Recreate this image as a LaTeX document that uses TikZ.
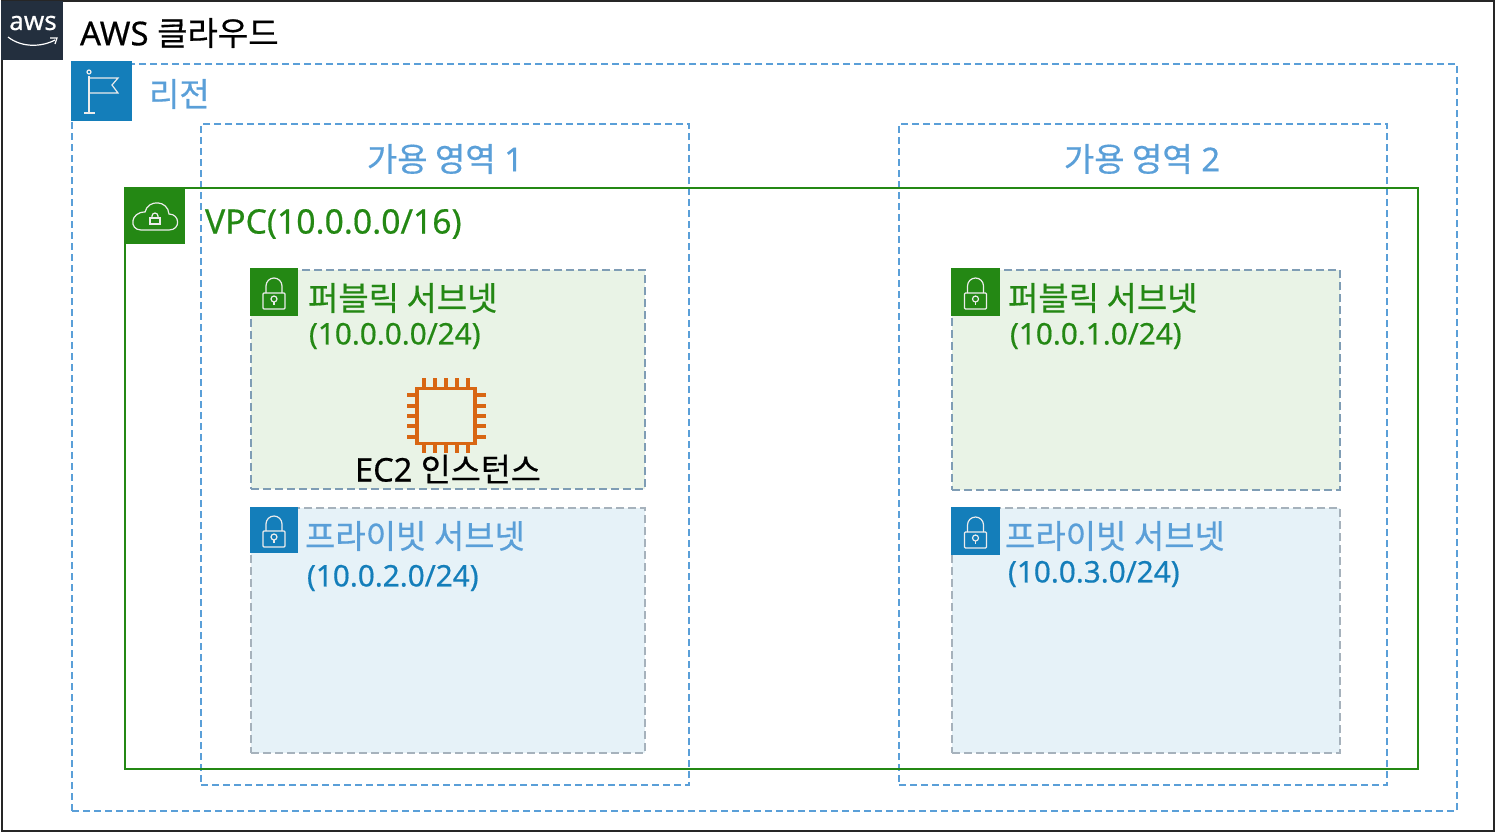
\documentclass[tikz,border=0pt]{standalone}
\usepackage{fontspec}
\setmainfont{Noto Sans}[FakeBold=0.5]
\newfontfamily\kr{Noto Sans CJK KR}[FakeBold=0.5]
\definecolor{awsdark}{HTML}{232F3E}
\definecolor{regionblue}{HTML}{147EBA}
\definecolor{dashblue}{HTML}{5A9FD8}
\definecolor{vpcgreen}{HTML}{248814}
\definecolor{pubfill}{HTML}{E9F3E6}
\definecolor{privfill}{HTML}{E6F2F8}
\definecolor{subnetdash}{HTML}{7F9DB5}
\definecolor{ec2orange}{HTML}{D86613}
\begin{document}
\begin{tikzpicture}[
    x=1pt, y=-1pt,
    zone/.style={draw, inner sep=0pt, outer sep=0pt},
    dashzone/.style={zone, draw=dashblue, line width=2pt, dash pattern=on 7pt off 4pt},
    vpczone/.style={zone, draw=vpcgreen, line width=2pt},
    pubzone/.style={zone, draw=subnetdash, fill=pubfill, line width=2pt, dash pattern=on 8pt off 4pt},
    privzone/.style={zone, draw=subnetdash!60!gray!70!white, fill=privfill, line width=2pt, dash pattern=on 8pt off 4pt},
    badge/.style={inner sep=0pt, outer sep=0pt},
    txt/.style={inner sep=0pt, outer sep=0pt, anchor=west},
    bigtxt/.style={txt, font=\fontsize{33}{36}\selectfont},
    midtxt/.style={txt, font=\fontsize{29.7}{34}\selectfont},
    iconline/.style={draw=white!85!gray, line width=1.2pt},
    lockicon/.pic={
        \draw[iconline, rounded corners=1pt] (-11,1) rectangle (11,17);
        \draw[iconline] (-8,1) -- (-8,-6) arc[start angle=180, end angle=360, radius=8] -- (8,1);
        \draw[iconline] (0,7) circle (3);
        \draw[iconline] (0,10) -- (0,13);
    }
]
\useasboundingbox (0,0) rectangle (1495,833);

% AWS cloud
\node[zone, line width=2pt, draw=black!85, minimum width=1492pt, minimum height=830pt] (cloud) at (747.5,416) {};
\node[badge, fill=awsdark, minimum width=62pt, minimum height=59pt] (awsbadge) at (32,30.5) {};
\node[inner sep=0pt, text=white, font=\fontsize{26}{26}\selectfont] (awslogo) at (33,23) {aws};
\draw[white, line width=1.2pt] (8,37) .. controls (22,48) and (42,47) .. (55,40);
\draw[white, line width=1.2pt] (50,38) -- (57,38) -- (55,44);
\node[bigtxt] (cloudtitle) at (80,33) {AWS {\kr 클라우드}};

% Region
\node[dashzone, minimum width=1385pt, minimum height=747pt] (region) at (764.5,437.5) {};
\node[badge, fill=regionblue, minimum width=61pt, minimum height=60pt] (regionbadge) at (101.5,91) {};
\draw[iconline] (89,76) -- (89,113);
\draw[iconline] (84,113) -- (95,113);
\draw[iconline] (89,72) circle (2);
\draw[iconline] (89,78) -- (118,78) -- (112,85) -- (118,93) -- (89,93);
\node[bigtxt, text=dashblue] (regiontitle) at (149,94) {\kr 리전};

% Availability zones
\node[dashzone, minimum width=488pt, minimum height=661pt] (az1) at (445,454.5) {};
\node[dashzone, minimum width=488pt, minimum height=661pt] (az2) at (1143,454.5) {};
\node[inner sep=0pt, text=dashblue, font=\fontsize{33}{36}\selectfont] (az1title) at (445,159) {{\kr 가용 영역} 1};
\node[inner sep=0pt, text=dashblue, font=\fontsize{33}{36}\selectfont] (az2title) at (1142,159) {{\kr 가용 영역} 2};

% VPC
\node[vpczone, minimum width=1293pt, minimum height=581pt] (vpc) at (771.5,478.5) {};
\node[badge, fill=vpcgreen, minimum width=60pt, minimum height=56pt] (vpcbadge) at (155,216) {};
\draw[iconline] (141,230) -- (169,230) .. controls (181,230) and (180,214) .. (169,214)
    .. controls (168,200) and (148,199) .. (145,212) .. controls (130,212) and (129,230) .. (141,230) -- cycle;
\draw[iconline] (150,218) rectangle (160,224);
\draw[iconline] (152,218) -- (152,216) arc[start angle=180, end angle=360, radius=3] -- (158,218);
\node[txt, text=vpcgreen, font=\fontsize{33.7}{36}\selectfont] (vpctitle) at (205,224) {VPC(10.0.0.0/16)};

% Subnets, zone 1
\node[pubzone, minimum width=394pt, minimum height=219pt] (pub1) at (448,379.5) {};
\node[privzone, minimum width=394pt, minimum height=245pt] (priv1) at (448,630.5) {};
% Subnets, zone 2
\node[pubzone, minimum width=388pt, minimum height=220pt] (pub2) at (1146,380) {};
\node[privzone, minimum width=388pt, minimum height=245pt] (priv2) at (1146,630.5) {};

% Subnet badges
\node[badge, fill=vpcgreen, minimum width=48pt, minimum height=48pt] (pub1badge) at (274,292) {};
\node[badge, fill=vpcgreen, minimum width=49pt, minimum height=48pt] (pub2badge) at (975.5,292) {};
\node[badge, fill=regionblue, minimum width=48pt, minimum height=46pt] (priv1badge) at (274,530) {};
\node[badge, fill=regionblue, minimum width=49pt, minimum height=48pt] (priv2badge) at (975.5,531) {};
\pic at (274,292) {lockicon};
\pic at (975.5,292) {lockicon};
\pic at (274,530) {lockicon};
\pic at (975.5,531) {lockicon};

% Subnet labels
\node[bigtxt, text=vpcgreen, font=\fontsize{33}{36}\selectfont\kr] (pub1title) at (308,298) {퍼블릭 서브넷};
\node[midtxt, text=vpcgreen] (pub1cidr) at (309,336) {(10.0.0.0/24)};
\node[bigtxt, text=vpcgreen, font=\fontsize{33}{36}\selectfont\kr] (pub2title) at (1008,298) {퍼블릭 서브넷};
\node[midtxt, text=vpcgreen] (pub2cidr) at (1010,336) {(10.0.1.0/24)};
\node[bigtxt, text=dashblue, font=\fontsize{33}{36}\selectfont\kr] (priv1title) at (305,536) {프라이빗 서브넷};
\node[midtxt, text=regionblue] (priv1cidr) at (307,578) {(10.0.2.0/24)};
\node[bigtxt, text=dashblue, font=\fontsize{33}{36}\selectfont\kr] (priv2title) at (1005,536) {프라이빗 서브넷};
\node[midtxt, text=regionblue] (priv2cidr) at (1008,574) {(10.0.3.0/24)};

% EC2 chip
\node[zone, draw=ec2orange, line width=3.5pt, minimum width=58pt, minimum height=55pt] (ec2) at (446,416) {};
\foreach \px in {424,435,446,457,468} {
    \draw[ec2orange, line width=3.5pt] (\px,378) -- (\px,388);
    \draw[ec2orange, line width=3.5pt] (\px,443) -- (\px,453);
}
\foreach \py in {395,406,416,426,437} {
    \draw[ec2orange, line width=3.5pt] (407,\py) -- (417,\py);
    \draw[ec2orange, line width=3.5pt] (475,\py) -- (486,\py);
}
\node[txt, font=\fontsize{32.6}{36}\selectfont] (ec2label) at (355,469) {EC2 {\kr 인스턴스}};

\end{tikzpicture}
\end{document}
